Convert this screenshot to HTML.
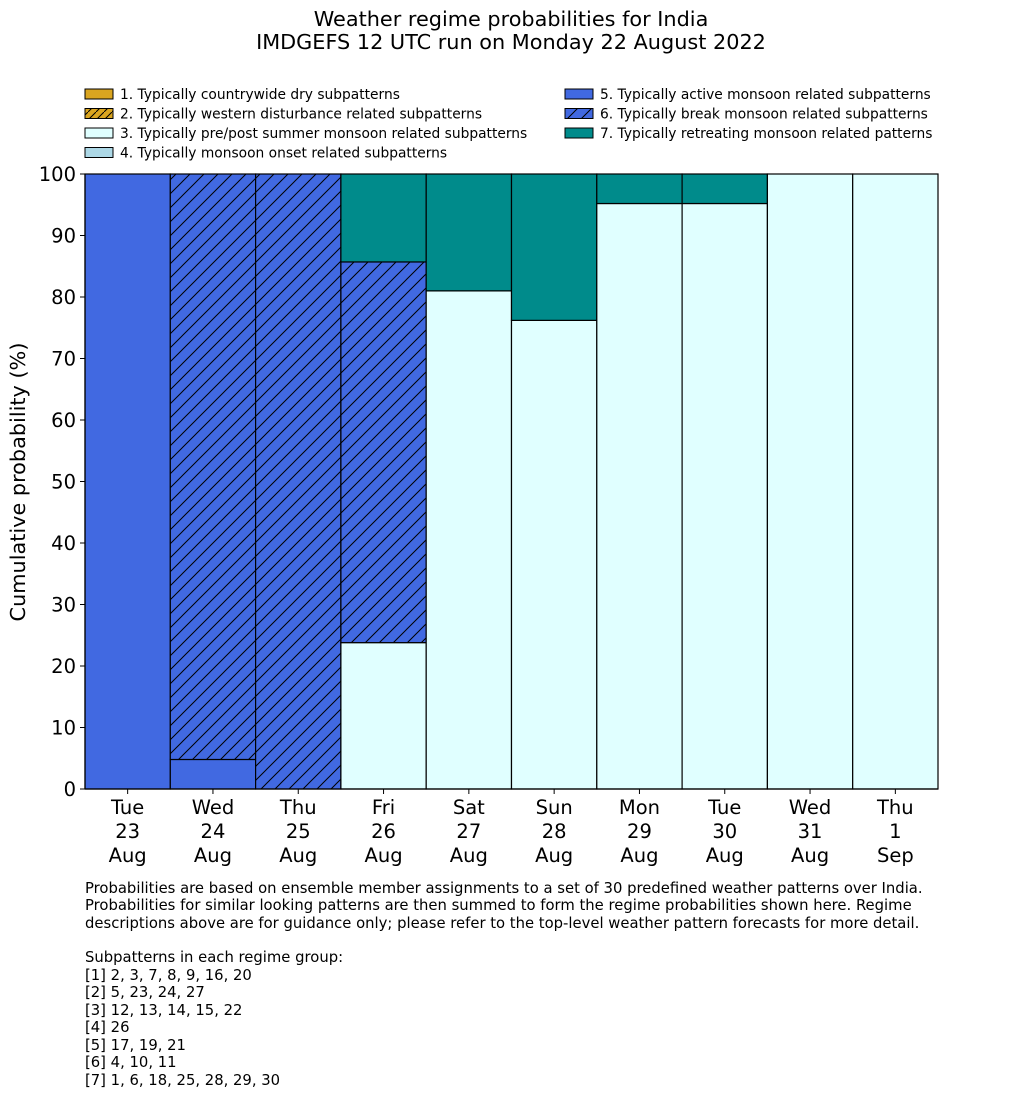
<!DOCTYPE html>
<html><head><meta charset="utf-8"><style>
body{margin:0;background:#fff;font-family:"Liberation Sans","DejaVu Sans",sans-serif;}
svg text{font-family:"DejaVu Sans","Liberation Sans",sans-serif;}
</style></head><body>
<svg id="c" width="1033" height="1114" viewBox="0 0 1033 1114">
<defs>
<pattern id="hatch" patternUnits="userSpaceOnUse" width="14" height="14">
<rect width="14" height="14" fill="#4169e1"/>
<path d="M-2,2 L2,-2 M0,14 L14,0 M12,16 L16,12" stroke="#000" stroke-width="1"/>
</pattern>
<pattern id="hatchY" patternUnits="userSpaceOnUse" width="8" height="8">
<rect width="8" height="8" fill="#daa520"/>
<path d="M0,8 L8,0" stroke="#000" stroke-width="1"/>
</pattern>
</defs>
<text x="511" y="26" font-size="20.8" text-anchor="middle">Weather regime probabilities for India</text>
<text x="511" y="49" font-size="20.8" text-anchor="middle">IMDGEFS 12 UTC run on Monday 22 August 2022</text>
<g id="legend"></g>
<g id="bars"></g>
<g id="axes"></g>
<text transform="translate(25,482) rotate(-90)" font-size="20.8" text-anchor="middle">Cumulative probability (%)</text>
<g font-size="14.8">
<text x="85" y="893">Probabilities are based on ensemble member assignments to a set of 30 predefined weather patterns over India.</text>
<text x="85" y="910">Probabilities for similar looking patterns are then summed to form the regime probabilities shown here. Regime</text>
<text x="85" y="928">descriptions above are for guidance only; please refer to the top-level weather pattern forecasts for more detail.</text>
<text x="85" y="962">Subpatterns in each regime group:</text>
<text x="85" y="980">[1] 2, 3, 7, 8, 9, 16, 20</text>
<text x="85" y="997">[2] 5, 23, 24, 27</text>
<text x="85" y="1015">[3] 12, 13, 14, 15, 22</text>
<text x="85" y="1032">[4] 26</text>
<text x="85" y="1050">[5] 17, 19, 21</text>
<text x="85" y="1067">[6] 4, 10, 11</text>
<text x="85" y="1085">[7] 1, 6, 18, 25, 28, 29, 30</text>
</g>
</svg>
<script>
const days=["Tue","Wed","Thu","Fri","Sat","Sun","Mon","Tue","Wed","Thu"];
const dates=["23","24","25","26","27","28","29","30","31","1"];
const months=["Aug","Aug","Aug","Aug","Aug","Aug","Aug","Aug","Aug","Sep"];
const r1=[0,0,0,0,0,0,0,0,0,0];
const r2=[0,0,0,0,0,0,0,0,0,0];
const r3=[0,0,0,23.8,81,76.2,95.2,95.2,100,100];
const r4=[0,0,0,0,0,0,0,0,0,0];
const r5=[100,4.8,0,0,0,0,0,0,0,0];
const r6=[0,95.2,100,61.9,0,0,0,0,0,0];
const r7=[0,0,0,14.3,19,23.8,4.8,4.8,0,0];
const yTicks=[0,10,20,30,40,50,60,70,80,90,100];
const labels=["1. Typically countrywide dry subpatterns","2. Typically western disturbance related subpatterns","3. Typically pre/post summer monsoon related subpatterns","4. Typically monsoon onset related subpatterns","5. Typically active monsoon related subpatterns","6. Typically break monsoon related subpatterns","7. Typically retreating monsoon related patterns"];
const fills=["#daa520","url(#hatchY)","#e0ffff","#add8e6","#4169e1","url(#hatch)","#008b8b"];
const series=[r1,r2,r3,r4,r5,r6,r7];
const NS="http://www.w3.org/2000/svg";
const X0=85,X1=938,Y0=789,Y1=174;
const bw=(X1-X0)/days.length;
const y=v=>Y0-(v/100)*(Y0-Y1);
const x=i=>X0+i*bw;
function mk(t,a,p){const e=document.createElementNS(NS,t);for(const k in a)e.setAttribute(k,a[k]);p.appendChild(e);return e;}
const bars=document.getElementById('bars');
days.forEach((d,i)=>{let cum=0;series.forEach((s,j)=>{const v=s[i];if(v>0){const r=mk('rect',{x:x(i),y:y(cum+v),width:bw,height:y(cum)-y(cum+v),fill:fills[j],stroke:'#000','stroke-width':1.2},bars);

}cum+=v;});});
const ax=document.getElementById('axes');
mk('line',{x1:X0,y1:Y1,x2:X0,y2:Y0,stroke:'#000','stroke-width':1.2},ax);
mk('line',{x1:X0,y1:Y0,x2:X1,y2:Y0,stroke:'#000','stroke-width':1.2},ax);
yTicks.forEach(t=>{mk('line',{x1:X0-5,y1:y(t),x2:X0,y2:y(t),stroke:'#000'},ax);
const tx=mk('text',{x:X0-9,y:y(t)+7,'font-size':19.5,'text-anchor':'end'},ax);tx.textContent=t;

});
days.forEach((d,i)=>{const cx=x(i)+bw/2;mk('line',{x1:cx,y1:Y0,x2:cx,y2:Y0+5,stroke:'#000'},ax);
[d,dates[i],months[i]].forEach((s,k)=>{const tx=mk('text',{x:cx,y:814+k*24,'font-size':19.5,'text-anchor':'middle'},ax);tx.textContent=s;

});});
const lg=document.getElementById('legend');
labels.forEach((l,j)=>{const col=j<4?0:1,row=j<4?j:j-4;const lx=col?565:85,ly=89+row*19.5;
const r=mk('rect',{x:lx,y:ly,width:28,height:10,fill:fills[j],stroke:'#000'},lg);


const t=mk('text',{x:lx+35,y:ly+10,'font-size':13.8},lg);t.textContent=l;

});
</script>
</body></html>
